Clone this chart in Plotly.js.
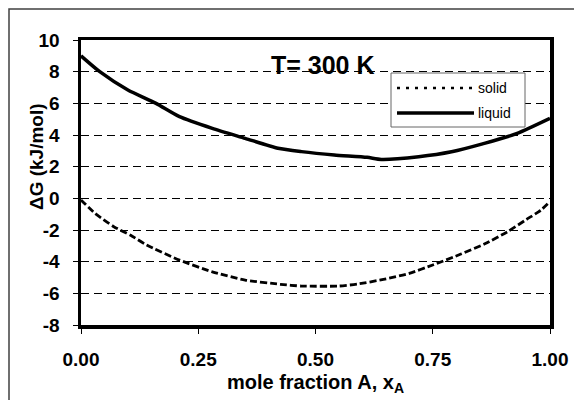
<!DOCTYPE html>
<html>
<head>
<meta charset="utf-8">
<script src="https://cdn.plot.ly/plotly-3.0.1.min.js"></script>
<style>html,body{margin:0;padding:0;background:#fff;}#chart{width:574px;height:400px;}</style>
</head>
<body>
<div id="chart"></div>
<script>
// Data
const liquidX = [0, 0.04, 0.10, 0.16, 0.21, 0.28, 0.35, 0.42, 0.47, 0.54, 0.61, 0.64, 0.72, 0.79, 0.86, 0.93, 1.0];
const liquidY = [9.0, 8.0, 6.84, 6.0, 5.16, 4.42, 3.79, 3.16, 2.95, 2.74, 2.59, 2.46, 2.63, 2.94, 3.47, 4.1, 5.05];
const solidX = [0, 0.03, 0.07, 0.105, 0.14, 0.21, 0.28, 0.35, 0.425, 0.47, 0.55, 0.59, 0.645, 0.70, 0.75, 0.81, 0.86, 0.91, 0.95, 0.98, 1.0];
const solidY = [-0.1, -0.95, -1.79, -2.32, -2.95, -3.9, -4.64, -5.16, -5.43, -5.54, -5.54, -5.41, -5.12, -4.74, -4.21, -3.52, -2.89, -2.1, -1.33, -0.76, -0.2];
const seriesNames = ["solid", "liquid"];
const yTickVals = [-8, -6, -4, -2, 0, 2, 4, 6, 8, 10];
const yTickText = ["-8", "-6", "-4", "-2", "0", "2", "4", "6", "8", "10"];
const xTickVals = [0, 0.25, 0.5, 0.75, 1];
const xTickText = ["0.00", "0.25", "0.50", "0.75", "1.00"];
const chartTitle = "T= 300 K";
const xTitle = "mole fraction A, x<sub>A</sub>";
const yTitle = "ΔG (kJ/mol)";

const FONT = "Liberation Sans, Arial, sans-serif";

const traces = [
  {x: solidX, y: solidY, name: seriesNames[0], mode: "lines", line: {color: "#000", width: 2.8, dash: "7px,3px", shape: "spline", smoothing: 0.6}, showlegend: false},
  {x: liquidX, y: liquidY, name: seriesNames[1], mode: "lines", line: {color: "#000", width: 3.5, shape: "spline", smoothing: 0.6}, showlegend: false}
];

// pixel -> paper helpers (plot area 81..550 x, 40..325 y)
const L = 81, R = 550, T = 40, B = 325;
const px = v => (v - L) / (R - L);
const py = v => (B - v) / (B - T);

const layout = {
  width: 574, height: 400,
  margin: {l: L, r: 574 - R, t: T, b: 400 - B},
  paper_bgcolor: "#fff", plot_bgcolor: "#fff",
  font: {family: FONT, color: "#000"},
  showlegend: false,
  xaxis: {
    range: [0, 1], tickmode: "array", tickvals: xTickVals, ticktext: xTickText,
    showline: true, linecolor: "#000", linewidth: 3.5, mirror: true,
    ticks: "outside", ticklen: 5, tickwidth: 1, tickcolor: "#000",
    showgrid: false, zeroline: false,
    tickfont: {family: FONT, size: 19, weight: "bold"},
    ticklabelstandoff: 10,
    title: {text: xTitle, font: {family: FONT, size: 20, weight: "bold"}, standoff: 6}
  },
  yaxis: {
    range: [-8, 10], tickmode: "array", tickvals: yTickVals, ticktext: yTickText,
    showline: true, linecolor: "#000", linewidth: 3.5, mirror: true,
    ticks: "outside", ticklen: 5, tickwidth: 1, tickcolor: "#000",
    showgrid: true, gridcolor: "#000", gridwidth: 1, griddash: "8px,5px",
    zeroline: false,
    tickfont: {family: FONT, size: 19, weight: "bold"},
    ticklabelstandoff: 9
  },
  annotations: [
    {text: chartTitle, xref: "paper", yref: "paper", x: px(323), y: py(65), showarrow: false,
     font: {family: FONT, size: 25, weight: "bold"}, xanchor: "center", yanchor: "middle"},
    {text: yTitle, xref: "paper", yref: "paper", x: px(36), y: py(157), showarrow: false, textangle: -90,
     font: {family: FONT, size: 19, weight: "bold"}, xanchor: "center", yanchor: "middle"},
    {text: seriesNames[0], xref: "paper", yref: "paper", x: px(476), y: py(88), showarrow: false,
     font: {family: FONT, size: 14}, xanchor: "left", yanchor: "middle"},
    {text: seriesNames[1], xref: "paper", yref: "paper", x: px(476), y: py(113), showarrow: false,
     font: {family: FONT, size: 14}, xanchor: "left", yanchor: "middle"}
  ],
  shapes: [
    {type: "rect", xref: "paper", yref: "paper", x0: px(9), x1: px(600), y0: py(420), y1: py(9),
     line: {color: "#404040", width: 1.5}, fillcolor: "rgba(0,0,0,0)", layer: "below"},
    {type: "rect", xref: "paper", yref: "paper", x0: px(391), x1: px(525), y0: py(127), y1: py(73),
     line: {color: "#666", width: 1}, fillcolor: "#fff", layer: "above"},
    {type: "line", xref: "paper", yref: "paper", x0: px(397), x1: px(472), y0: py(88), y1: py(88),
     line: {color: "#000", width: 2.5, dash: "3px,6px"}},
    {type: "line", xref: "paper", yref: "paper", x0: px(397), x1: px(474), y0: py(113), y1: py(113),
     line: {color: "#000", width: 3.5}}
  ]
};

Plotly.newPlot("chart", traces, layout, {displayModeBar: false, staticPlot: true});
</script>
</body>
</html>
